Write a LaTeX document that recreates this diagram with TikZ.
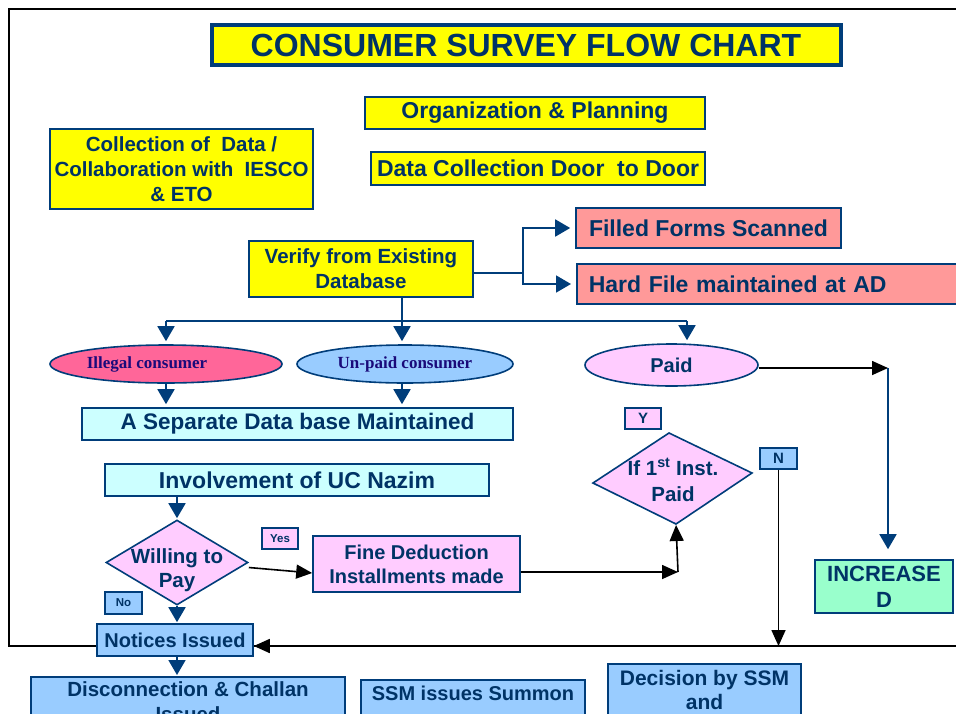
\documentclass[tikz,border=0pt]{standalone}
\usepackage{fontspec}
\setmainfont{Liberation Sans}
\newfontfamily\serifbold{Liberation Serif}
\usetikzlibrary{shapes.geometric,arrows.meta}
\definecolor{navy}{RGB}{0,51,102}
\definecolor{bord}{RGB}{0,61,122}
\definecolor{elltext}{RGB}{26,10,122}
\definecolor{ylw}{RGB}{255,255,0}
\definecolor{salmon}{RGB}{255,153,153}
\definecolor{lcyan}{RGB}{204,255,255}
\definecolor{lblue}{RGB}{153,204,255}
\definecolor{lpink}{RGB}{255,204,255}
\definecolor{hpink}{RGB}{255,102,153}
\definecolor{mint}{RGB}{153,255,204}
\newcommand\myfs[2]{\fontsize{#1}{#2}\selectfont\bfseries}
\begin{document}
\begin{tikzpicture}[x=1pt,y=-1pt,
  box/.style={rectangle, draw=bord, line width=1.6pt, text=navy, align=center, inner sep=0pt},
  ell/.style={ellipse, draw=bord, line width=1.6pt, inner sep=0pt},
  dia/.style={draw=bord, line width=1.6pt, fill=lpink},
  arr/.style={draw=bord, line width=1.8pt, -{Triangle[length=15pt,width=17pt]}},
  barr/.style={draw=black, line width=1.6pt, -{Triangle[length=16pt,width=14pt]}},
  tag/.style={rectangle, draw=bord, line width=1.4pt, text=navy, inner sep=0pt}]
\useasboundingbox (0,0) rectangle (956,713);
\clip (0,0) rectangle (956,713);
% frame
\draw[black, line width=1.8pt] (9,9) rectangle (1010,646);
% title and top boxes
\node[box, fill=ylw, line width=4pt, minimum width=629pt, minimum height=40pt, font=\myfs{32}{38}] (title) at (526,45) {CONSUMER SURVEY FLOW CHART};
\node[box, fill=ylw, minimum width=340pt, minimum height=32pt, font=\myfs{23}{27}] (org) at (535,113) {Organization \& Planning};
\node[box, fill=ylw, minimum width=334pt, minimum height=33pt, font=\myfs{23}{27}] (dcd) at (538,168.5) {Data Collection Door\ \ to Door};
\node[box, fill=ylw, minimum width=263pt, minimum height=80pt, font=\myfs{20.5}{25}] (coll) at (181.5,169) {Collection of\ \ Data /\\Collaboration with\ \ IESCO\\\& ETO};
\node[box, fill=ylw, minimum width=224pt, minimum height=56pt, font=\myfs{20.5}{25}] (verify) at (361,269) {Verify from Existing\\Database};
\node[box, fill=salmon, minimum width=265pt, minimum height=40pt, font=\myfs{23}{27}] (filled) at (708.5,228) {Filled Forms Scanned};
\node[box, fill=salmon, anchor=west, minimum height=40pt, text width=420pt, align=left, inner xsep=12pt, font=\myfs{23}{27}] (hard) at (576,284) {Hard File maintained at AD};
% ellipses
\node[ell, fill=hpink, minimum width=232pt, minimum height=38pt, text=elltext, font=\serifbold\fontsize{17}{20}\selectfont\bfseries] (illegal) at (166,364) {Illegal consumer\hspace*{38pt}};
\node[ell, fill=lblue, minimum width=216pt, minimum height=38pt, text=elltext, font=\serifbold\fontsize{17}{20}\selectfont\bfseries] (unpaid) at (405,364) {Un-paid consumer};
\node[ell, fill=lpink, minimum width=173pt, minimum height=42pt, text=navy, font=\myfs{20}{24}] (paid) at (671.5,365) {Paid};
% middle boxes
\node[box, fill=lcyan, minimum width=431pt, minimum height=32pt, font=\myfs{22.5}{27}] (sep) at (297.5,424) {A Separate Data base Maintained};
\node[box, fill=lcyan, minimum width=384pt, minimum height=32pt, font=\myfs{23}{27}] (inv) at (297,480) {Involvement of UC Nazim};
% willing diamond
\node[diamond, dia, minimum width=142pt, minimum height=85pt, aspect=1.67, inner sep=0pt] (willing) at (177,562.5) {};
\node[text=navy, align=center, inner sep=0pt, font=\myfs{20.5}{24}] (willingtxt) at (177,570) {Willing to\\Pay};
\node[box, fill=lpink, minimum width=207pt, minimum height=56pt, font=\myfs{20}{24}] (fine) at (416.5,564) {Fine Deduction\\Installments made};
% if 1st inst diamond
\coordinate (dT) at (669,433);
\coordinate (dR) at (752,473);
\coordinate (dB) at (676,524);
\coordinate (dL) at (593,483);
\draw[dia] (dT) -- (dR) -- (dB) -- (dL) -- cycle;
\node[text=navy, align=center, inner sep=0pt, font=\myfs{20.5}{26}] (ifpaid) at (673,480) {If 1\textsuperscript{st} Inst.\\Paid};
% tags
\node[tag, fill=lpink, minimum width=36pt, minimum height=21pt, font=\myfs{15}{18}] (ylab) at (643,418.5) {Y};
\node[tag, fill=lblue, minimum width=37pt, minimum height=21pt, font=\myfs{15}{18}] (nlab) at (778.5,458.5) {N};
\node[tag, fill=lpink, minimum width=36pt, minimum height=21pt, font=\myfs{11.5}{14}] (yeslab) at (280,538.5) {Yes};
\node[tag, fill=lblue, minimum width=37pt, minimum height=22pt, font=\myfs{11.5}{14}] (nolab) at (123.5,603) {No};
% increased
\node[box, fill=mint, minimum width=138pt, minimum height=53pt, font=\myfs{22}{26}] (incr) at (884,586.5) {INCREASE\\D};
% bottom boxes
\node[box, fill=lblue, minimum width=156pt, minimum height=32pt, font=\myfs{20}{24}] (notices) at (175,640) {Notices Issued};
\node[box, fill=lblue, anchor=north, minimum width=314pt, inner ysep=5pt, font=\myfs{20.5}{25}] (disc) at (188,676) {Disconnection \& Challan\\Issued};
\node[box, fill=lblue, anchor=north, minimum width=224pt, inner ysep=6pt, text depth=40pt, font=\myfs{20}{24}] (ssm) at (473,679) {SSM issues Summon};
\node[box, fill=lblue, anchor=north, minimum width=193pt, inner ysep=6pt, font=\myfs{21}{24}] (dec) at (704.5,663) {Decision by SSM\\and\\\mbox{}};
% connectors
\coordinate (br) at (523,273);
\draw[bord, line width=1.8pt] (verify.east |- br) -- (br);
\draw[arr, shorten >=5pt] (br) |- (filled.west);
\draw[arr, shorten >=5pt] (br) |- (hard.west);
\coordinate (hub) at (402,321);
\coordinate (hubp) at (687,321);
\draw[bord, line width=1.8pt] (verify.south -| hub) -- (hub);
\draw[bord, line width=1.8pt] (illegal.north |- hub) -- (hubp);
\draw[arr, shorten >=3pt] (illegal.north |- hub) -- (illegal.north);
\draw[arr, shorten >=3pt] (hub) -- (hub |- unpaid.north);
\draw[arr, shorten >=3pt] (hubp) -- (hubp |- paid.north);
\draw[arr, shorten >=3pt] (illegal.south) -- (illegal.south |- sep.north);
\draw[arr, shorten >=3pt] (hub |- unpaid.south) -- (hub |- sep.north);
\coordinate (pc) at (888,368);
\draw[barr] (paid.east |- pc) -- (pc);
\draw[arr, shorten >=10pt] (pc) -- (pc |- incr.north);
\draw[arr, shorten >=1pt] (willing.north |- inv.south) -- (willing.north);
\draw[barr] ([yshift=-5pt]willing.east) -- ([yshift=-9pt]fine.west);
\coordinate (fc) at (678,572);
\draw[barr] ([yshift=-8pt]fine.east) -- (fc);
\draw[barr, shorten >=1pt] (fc) -- (dB);
\coordinate (nb) at (778.5,646);
\draw[barr] (nlab.south) -- (nb);
\draw[barr] (nb) -- (nb -| notices.east);
\draw[arr, shorten >=1pt] (willing.south) -- (willing.south |- notices.north);
\draw[arr, shorten >=1pt] (notices.south -| willing.south) -- (willing.south |- disc.north);
\end{tikzpicture}
\end{document}
